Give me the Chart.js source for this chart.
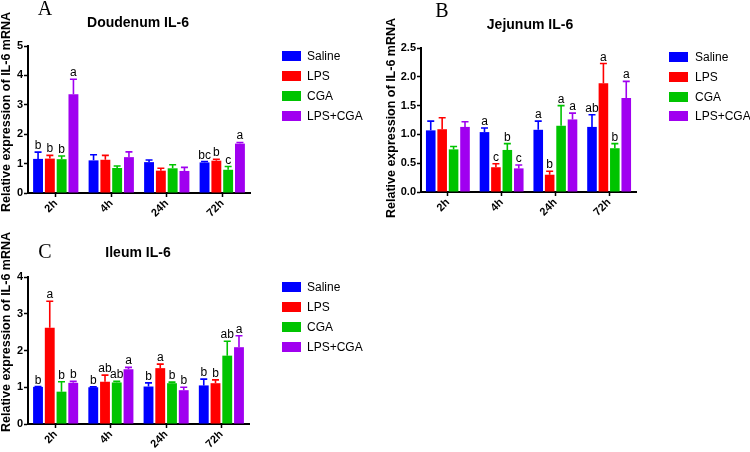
<!DOCTYPE html>
<html><head><meta charset="utf-8">
<script src="https://cdn.jsdelivr.net/npm/chart.js@4.4.1/dist/chart.umd.min.js"></script>
<style>
html,body{margin:0;padding:0;background:#fff;}
#wrap{position:relative;width:750px;height:452px;overflow:hidden;background:#fff;}
.panel{position:absolute;width:375px;height:226px;}
canvas{display:block;}
</style></head><body>
<div id="wrap">
  <div class="panel" style="left:0;top:0"><canvas id="cA" width="375" height="226"></canvas></div>
  <div class="panel" style="left:375px;top:0"><canvas id="cB" width="375" height="226"></canvas></div>
  <div class="panel" style="left:0;top:226px"><canvas id="cC" width="375" height="226"></canvas></div>
</div>
<script>
// ---------- DATA ----------
const timepoints = ['2h', '4h', '24h', '72h'];
const groups = ['Saline', 'LPS', 'CGA', 'LPS+CGA'];
const groupColors = ['#0000ff', '#ff0000', '#00c400', '#a000f0'];

// Duodenum IL-6 (panel A)
const duoSaline = [1.16, 1.11, 1.05, 1.04];
const duoSalineErr = [0.23, 0.19, 0.07, 0.03];
const duoLPS = [1.17, 1.13, 0.76, 1.10];
const duoLPSErr = [0.11, 0.15, 0.08, 0.05];
const duoCGA = [1.15, 0.85, 0.84, 0.79];
const duoCGAErr = [0.11, 0.07, 0.12, 0.11];
const duoLPSCGA = [3.36, 1.22, 0.75, 1.68];
const duoLPSCGAErr = [0.51, 0.18, 0.12, 0.04];
const duoLetters = [['b', '', '', 'bc'], ['b', '', '', 'b'], ['b', '', '', 'c'], ['a', '', '', 'a']];

// Jejunum IL-6 (panel B)
const jejSaline = [1.07, 1.04, 1.08, 1.13];
const jejSalineErr = [0.16, 0.07, 0.15, 0.21];
const jejLPS = [1.09, 0.43, 0.30, 1.89];
const jejLPSErr = [0.20, 0.06, 0.06, 0.34];
const jejCGA = [0.74, 0.73, 1.15, 0.76];
const jejCGAErr = [0.05, 0.11, 0.35, 0.08];
const jejLPSCGA = [1.13, 0.41, 1.26, 1.63];
const jejLPSCGAErr = [0.09, 0.06, 0.11, 0.29];
const jejLetters = [['', 'a', 'a', 'ab'], ['', 'c', 'b', 'a'], ['', 'b', 'a', 'b'], ['', 'c', 'a', 'a']];

// Ileum IL-6 (panel C)
const ileSaline = [1.01, 1.00, 1.02, 1.05];
const ileSalineErr = [0.01, 0.01, 0.10, 0.17];
const ileLPS = [2.62, 1.15, 1.52, 1.11];
const ileLPSErr = [0.72, 0.18, 0.11, 0.09];
const ileCGA = [0.88, 1.13, 1.11, 1.86];
const ileCGAErr = [0.27, 0.03, 0.03, 0.39];
const ileLPSCGA = [1.12, 1.49, 0.92, 2.09];
const ileLPSCGAErr = [0.04, 0.05, 0.08, 0.31];
const ileLetters = [['b', 'b', 'b', 'b'], ['a', 'ab', 'a', 'b'], ['b', 'ab', 'b', 'ab'], ['b', 'a', 'b', 'a']];

const yTicksA = [0, 1, 2, 3, 4, 5];
const yTicksB = [0, 0.5, 1.0, 1.5, 2.0, 2.5];
const yTicksC = [0, 1, 2, 3, 4];
const yAxisTitle = 'Relative expression of IL-6 mRNA';

// ---------- RENDERING ----------
const FONT = '"Liberation Sans", Arial, Helvetica, sans-serif';
const SERIF = '"Liberation Serif", "Times New Roman", serif';

const extras = {
  id: 'extras',
  afterDatasetsDraw(chart) {
    const ctx = chart.ctx;
    const ys = chart.scales.y;
    chart.data.datasets.forEach((ds, di) => {
      const meta = chart.getDatasetMeta(di);
      meta.data.forEach((bar, i) => {
        const v = ds.data[i], e = ds.errors[i];
        const yt = ys.getPixelForValue(v + e);
        ctx.save();
        ctx.strokeStyle = ds.backgroundColor;
        ctx.lineWidth = 1.6;
        ctx.beginPath();
        ctx.moveTo(bar.x, bar.y);
        ctx.lineTo(bar.x, yt);
        ctx.moveTo(bar.x - 3.5, yt);
        ctx.lineTo(bar.x + 3.5, yt);
        ctx.stroke();
        const L = ds.letters[i];
        if (L) {
          ctx.fillStyle = '#000';
          ctx.font = '12px ' + FONT;
          ctx.textAlign = 'center';
          ctx.textBaseline = 'alphabetic';
          ctx.fillText(L, bar.x, yt - 3);
        }
        ctx.restore();
      });
    });
  },
  afterDraw(chart, args, o) {
    const ctx = chart.ctx;
    ctx.save();
    // panel letter
    ctx.fillStyle = '#000';
    ctx.font = '20px ' + SERIF;
    ctx.textAlign = 'center';
    ctx.textBaseline = 'alphabetic';
    ctx.fillText(o.panel, o.panelX, o.panelY);
    // title
    ctx.font = 'bold 14px ' + FONT;
    ctx.textBaseline = 'middle';
    ctx.fillText(o.title, o.titleX, o.titleY);
    // y-axis title
    ctx.save();
    ctx.translate(o.yTitleX, o.yTitleY);
    ctx.rotate(-Math.PI / 2);
    ctx.font = 'bold 12.5px ' + FONT;
    ctx.fillText(yAxisTitle, 0, 0);
    ctx.restore();
    // legend
    ctx.textAlign = 'left';
    ctx.font = '12px ' + FONT;
    chart.data.datasets.forEach((ds, i) => {
      const ry = o.legendRows[i];
      ctx.fillStyle = ds.backgroundColor;
      ctx.fillRect(o.legendX, ry - 5, 19, 10);
      ctx.fillStyle = '#000';
      ctx.fillText(ds.label, o.legendTextX, ry + 0.5);
    });
    ctx.restore();
  }
};

function makeChart(id, series, errs, letters, yTicks, cfg) {
  const datasets = groups.map((g, i) => ({
    label: g,
    data: series[i],
    errors: errs[i],
    letters: letters[i],
    backgroundColor: groupColors[i],
    borderWidth: 0,
    barPercentage: 0.84,
    categoryPercentage: 0.85
  }));
  return new Chart(document.getElementById(id), {
    type: 'bar',
    data: { labels: timepoints, datasets },
    plugins: [extras],
    options: {
      responsive: false,
      animation: false,
      events: [],
      layout: { padding: cfg.padding },
      plugins: {
        legend: { display: false },
        tooltip: { enabled: false },
        title: { display: false },
        extras: cfg.extras
      },
      scales: {
        x: {
          offset: true,
          z: 1,
          ticks: {
            color: '#000', autoSkip: false, minRotation: 45, maxRotation: 45, padding: 0,
            font: { family: FONT, size: 11, weight: 'bold' }
          },
          grid: { offset: false, drawOnChartArea: false, drawTicks: true, tickLength: 4, tickColor: '#000', tickWidth: 1.5 },
          border: { display: true, color: '#000', width: 2 },
          afterFit(s) { s.height = cfg.xHeight; }
        },
        y: {
          min: yTicks[0],
          max: yTicks[yTicks.length - 1],
          z: 1,
          afterBuildTicks(s) { s.ticks = yTicks.map(v => ({ value: v })); },
          ticks: {
            color: '#000', padding: 1,
            font: { family: FONT, size: 11, weight: 'bold' },
            callback: cfg.tickFmt
          },
          grid: { drawOnChartArea: false, drawTicks: true, tickLength: 4, tickColor: '#000', tickWidth: 1.5 },
          border: { display: true, color: '#000', width: 2 },
          title: { display: false },
          afterFit(s) { s.width = cfg.yWidth; }
        }
      }
    }
  });
}

makeChart('cA',
  [duoSaline, duoLPS, duoCGA, duoLPSCGA],
  [duoSalineErr, duoLPSErr, duoCGAErr, duoLPSCGAErr],
  duoLetters, yTicksA,
  {
    padding: { left: 0, top: 46, right: 125, bottom: 3 }, xHeight: 30, yWidth: 28,
    tickFmt: v => String(v),
    extras: { panel: 'A', panelX: 45, panelY: 15, title: 'Doudenum IL-6', titleX: 138, titleY: 23,
      yTitleX: 7, yTitleY: 112,
      legendX: 282, legendTextX: 307, legendRows: [56, 76, 96, 116] }
  });

makeChart('cB',
  [jejSaline, jejLPS, jejCGA, jejLPSCGA],
  [jejSalineErr, jejLPSErr, jejCGAErr, jejLPSCGAErr],
  jejLetters, yTicksB,
  {
    padding: { left: 10, top: 48, right: 114, bottom: 4 }, xHeight: 30, yWidth: 36,
    tickFmt: v => Number(v).toFixed(1),
    extras: { panel: 'B', panelX: 67, panelY: 17, title: 'Jejunum IL-6', titleX: 155, titleY: 25,
      yTitleX: 17, yTitleY: 118,
      legendX: 294, legendTextX: 320, legendRows: [57, 77, 97, 116] }
  });

makeChart('cC',
  [ileSaline, ileLPS, ileCGA, ileLPSCGA],
  [ileSalineErr, ileLPSErr, ileCGAErr, ileLPSCGAErr],
  ileLetters, yTicksC,
  {
    padding: { left: 0, top: 51, right: 126, bottom: 0 }, xHeight: 28, yWidth: 28,
    tickFmt: v => String(v),
    extras: { panel: 'C', panelX: 45, panelY: 32, title: 'Ileum IL-6', titleX: 138, titleY: 27,
      yTitleX: 7, yTitleY: 106,
      legendX: 282, legendTextX: 307, legendRows: [61, 81, 101, 121] }
  });
</script>
</body></html>
